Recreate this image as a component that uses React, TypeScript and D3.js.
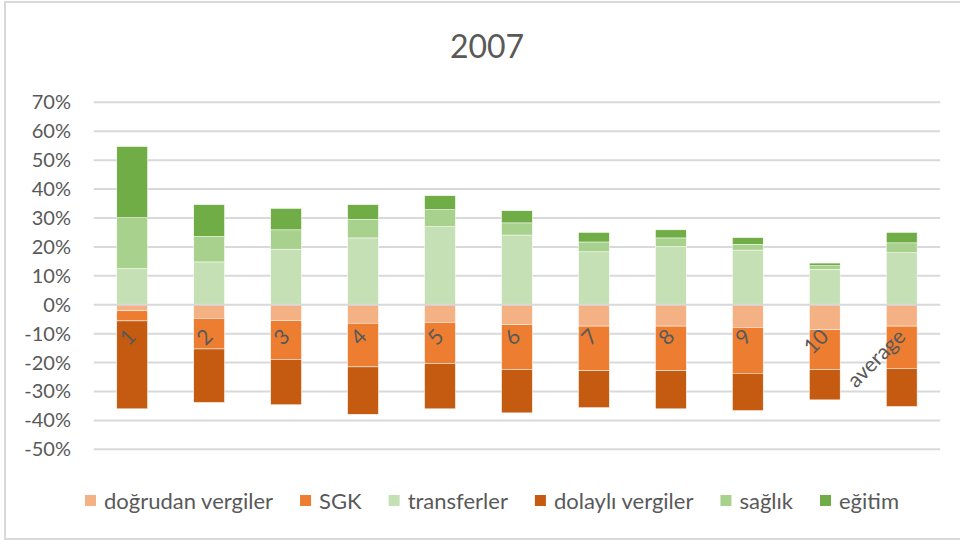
import React, { useEffect, useRef } from "react";
import * as d3 from "d3";

const title = "2007";
const categories = ["1", "2", "3", "4", "5", "6", "7", "8", "9", "10", "average"];
const seriesNames = ["doğrudan vergiler", "SGK", "transferler", "dolaylı vergiler", "sağlık", "eğitim"];
const seriesColors = ["#F4B183", "#ED7D31", "#C5E0B4", "#C55A11", "#A9D18E", "#70AD47"];
const dogrudanVergiler = [-2.1, -4.7, -5.5, -6.4, -6.1, -6.9, -7.4, -7.4, -7.8, -8.6, -7.4];
const sgk = [-3.5, -10.6, -13.4, -15.1, -14.2, -15.5, -15.4, -15.4, -15.9, -13.8, -14.6];
const transferler = [12.5, 14.8, 19.2, 23.1, 27.0, 24.1, 18.3, 20.1, 18.9, 12.2, 18.0];
const dolayliVergiler = [-30.4, -18.5, -15.7, -16.4, -15.7, -15.0, -12.8, -13.2, -12.9, -10.5, -13.2];
const saglik = [17.6, 8.8, 6.7, 6.4, 5.9, 4.2, 3.4, 3.0, 2.0, 1.3, 3.4];
const egitim = [24.6, 11.0, 7.4, 5.1, 4.8, 4.2, 3.3, 2.8, 2.3, 0.9, 3.6];
const yTicks = [70, 60, 50, 40, 30, 20, 10, 0, -10, -20, -30, -40, -50];

const FONT = "Lato, 'Open Sans', sans-serif";
const TEXT = "#595959";
const GRID = "#d9d9d9";

export default function App() {
  const ref = useRef<SVGSVGElement | null>(null);

  useEffect(() => {
    const svg = d3.select(ref.current);
    svg.selectAll("*").remove();

    const seriesValues = [dogrudanVergiler, sgk, transferler, dolayliVergiler, saglik, egitim];
    const rows = categories.map((c, i) => {
      const r: any = { cat: c };
      seriesNames.forEach((s, k) => (r[s] = seriesValues[k][i]));
      return r;
    });
    const stacked = d3.stack<any>().keys(seriesNames).offset(d3.stackOffsetDiverging)(rows);

    const x = d3.scaleBand().domain(categories).range([93.7, 940.2]).paddingInner(0.6).paddingOuter(0.3);
    const y = d3.scaleLinear().domain([-50, 70]).range([449.3, 102.3]);

    // border
    svg.append("rect").attr("x", 5).attr("y", 2).attr("width", 1000).attr("height", 537)
      .attr("fill", "white").attr("stroke", GRID).attr("stroke-width", 2);

    // title
    svg.append("text").attr("x", 487).attr("y", 58).attr("text-anchor", "middle")
      .attr("font-family", FONT).attr("font-size", 32).attr("fill", TEXT).text(title);

    // gridlines
    svg.append("g").selectAll("line").data(yTicks.filter(t => t !== 0)).join("line")
      .attr("x1", 93.7).attr("x2", 940.2)
      .attr("y1", d => y(d)).attr("y2", d => y(d))
      .attr("stroke", GRID).attr("stroke-width", 2);

    // y labels
    svg.append("g").selectAll("text").data(yTicks).join("text")
      .attr("x", 71).attr("y", d => y(d) + 7).attr("text-anchor", "end")
      .attr("font-family", FONT).attr("font-size", 20).attr("fill", TEXT)
      .text(d => `${d}%`);

    // bars
    const gBars = svg.append("g");
    stacked.forEach((s, k) => {
      gBars.append("g").attr("fill", seriesColors[k]).selectAll("rect").data(s).join("rect")
        .attr("x", d => x(d.data.cat)!)
        .attr("width", x.bandwidth())
        .attr("y", d => y(Math.max(d[0], d[1])))
        .attr("height", d => Math.abs(y(d[0]) - y(d[1])))
        .attr("stroke", "white").attr("stroke-width", 0.5);
    });

    // zero axis line
    svg.append("line").attr("x1", 93.7).attr("x2", 940.2).attr("y1", y(0)).attr("y2", y(0))
      .attr("stroke", GRID).attr("stroke-width", 2);

    // category labels
    svg.append("g").selectAll("text").data(categories).join("text")
      .attr("transform", d => `translate(${x(d)! + x.bandwidth() / 2 + 5},338) rotate(-45)`)
      .attr("text-anchor", "end")
      .attr("font-family", FONT).attr("font-size", 21).attr("fill", TEXT)
      .text(d => d);

    // legend
    const lg = svg.append("g");
    const items = seriesNames.map((name, k) => {
      const g = lg.append("g");
      g.append("rect").attr("width", 11).attr("height", 11).attr("y", 495).attr("fill", seriesColors[k]);
      const t = g.append("text").attr("x", 19).attr("y", 509)
        .attr("font-family", FONT).attr("font-size", 22).attr("fill", TEXT).text(name);
      const w = (t.node() as SVGTextElement).getComputedTextLength();
      return { g, w: 19 + w };
    });
    const gap = 27;
    const total = d3.sum(items, d => d.w) + gap * (items.length - 1);
    let cx = 492 - total / 2;
    items.forEach(it => {
      it.g.attr("transform", `translate(${cx},0)`);
      cx += it.w + gap;
    });
  }, []);

  return (
    <svg ref={ref} width={960} height={540}
      style={{ position: "absolute", left: 0, top: 0, background: "white" }} />
  );
}
